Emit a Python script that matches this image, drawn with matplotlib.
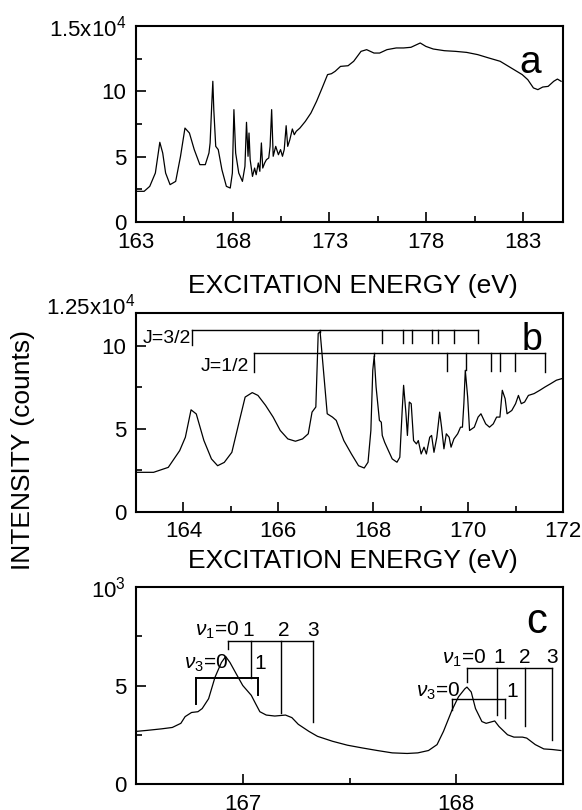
import matplotlib
matplotlib.use('Agg')
import matplotlib.pyplot as plt
from matplotlib.ticker import MultipleLocator

plt.rcParams['font.family'] = ['Liberation Sans', 'DejaVu Sans']
plt.rcParams['mathtext.fontset'] = 'custom'
plt.rcParams['mathtext.rm'] = 'Liberation Sans'
plt.rcParams['mathtext.it'] = 'Liberation Sans:italic'

# panel a: wide scan, intensity in 10^3 counts
a_energy = [163.0, 163.42, 163.71, 164.0, 164.15, 164.23, 164.38, 164.53, 164.76, 165.05,
            165.3, 165.53, 165.76, 166.01, 166.3, 166.58, 166.77, 166.83, 166.91, 166.97,
            167.02, 167.12, 167.25, 167.44, 167.67, 167.87, 167.98, 168.06, 168.15, 168.31,
            168.5, 168.63, 168.71, 168.79, 168.84, 168.9, 169.02, 169.13, 169.21, 169.32,
            169.4, 169.48, 169.55, 169.65, 169.74, 169.86, 169.93, 170.01, 170.09, 170.22,
            170.36, 170.47, 170.57, 170.66, 170.76, 170.84, 170.95, 171.08, 171.18, 171.28,
            171.47, 171.75, 172.04, 172.33, 172.62, 172.9, 173.1, 173.29, 173.57, 173.96,
            174.25, 174.63, 174.92, 175.3, 175.59, 175.97, 176.45, 176.83, 177.21, 177.5,
            177.69, 177.98, 178.36, 178.94, 179.51, 180.09, 180.66, 181.24, 181.82, 182.39,
            182.96, 183.25, 183.54, 183.77, 184.02, 184.3, 184.59, 184.78, 184.97]
a_counts = [2.35, 2.35, 2.73, 3.75, 5.28, 6.1, 5.28, 3.75, 2.86, 3.11,
            5.03, 7.19, 6.81, 5.54, 4.39, 4.39, 5.28, 6.05, 8.85, 10.77,
            8.6, 5.79, 5.54, 4.0, 2.73, 2.6, 3.75, 8.6, 5.28, 3.75,
            3.11, 4.26, 7.63, 5.03, 6.81, 4.77, 3.49, 4.13, 3.62, 4.52,
            3.88, 6.05, 4.13, 4.52, 4.77, 4.9, 5.79, 8.6, 5.03, 5.79,
            5.15, 5.54, 5.03, 5.54, 7.37, 5.79, 6.3, 7.12, 6.68, 6.94,
            7.19, 7.7, 8.34, 9.23, 10.26, 11.28, 11.35, 11.53, 11.91, 11.96,
            12.3, 13.06, 13.19, 12.93, 12.93, 13.19, 13.32, 13.32, 13.37, 13.57,
            13.7, 13.44, 13.24, 13.11, 13.06, 12.98, 12.81, 12.55, 12.3, 11.79,
            11.28, 10.89, 10.26, 10.13, 10.33, 10.38, 10.77, 10.94, 10.77]

# panel b: 163-172 eV region
b_energy = [163.0, 163.37, 163.68, 163.92, 164.04, 164.16, 164.27, 164.43, 164.59, 164.72,
            164.86, 165.02, 165.18, 165.3, 165.45, 165.57, 165.73, 165.89, 166.04, 166.2,
            166.36, 166.51, 166.63, 166.71, 166.79, 166.84, 166.88, 166.92, 167.03, 167.14,
            167.22, 167.38, 167.54, 167.69, 167.81, 167.89, 167.95, 167.99, 168.02, 168.06,
            168.13, 168.17, 168.19, 168.24, 168.32, 168.4, 168.5, 168.56, 168.61, 168.64,
            168.69, 168.72, 168.76, 168.8, 168.85, 168.91, 168.95, 169.01, 169.07, 169.12,
            169.19, 169.23, 169.28, 169.34, 169.4, 169.44, 169.49, 169.54, 169.6, 169.64,
            169.7, 169.78, 169.84, 169.88, 169.91, 169.94, 169.99, 170.03, 170.13, 170.21,
            170.27, 170.37, 170.45, 170.53, 170.6, 170.67, 170.72, 170.78, 170.82, 170.92,
            171.0, 171.06, 171.12, 171.19, 171.27, 171.39, 171.51, 171.62, 171.74, 171.86,
            171.98]
b_counts = [2.37, 2.37, 2.67, 3.68, 4.49, 6.15, 5.9, 4.3, 3.18, 2.77,
            2.97, 3.58, 5.5, 6.92, 7.19, 7.02, 6.42, 5.71, 4.9, 4.39,
            4.25, 4.39, 4.7, 6.01, 6.32, 10.77, 10.87, 9.55, 5.91, 5.71,
            5.51, 4.29, 3.48, 2.77, 2.63, 2.98, 4.9, 8.54, 9.39, 7.53,
            5.51, 5.4, 4.6, 4.19, 3.68, 3.18, 2.98, 3.28, 6.11, 7.63,
            5.91, 4.6, 6.62, 6.52, 4.29, 4.09, 4.29, 3.48, 3.89, 3.48,
            4.49, 4.6, 3.58, 4.49, 6.01, 5.1, 3.79, 4.7, 4.49, 3.89,
            4.39, 4.7, 5.1, 5.1, 6.52, 8.54, 6.92, 4.9, 5.1, 5.71,
            5.91, 5.3, 5.1, 5.3, 5.71, 5.71, 7.33, 6.82, 5.91, 6.11,
            6.52, 7.02, 6.52, 6.62, 7.02, 7.13, 7.33, 7.53, 7.73, 7.94,
            8.04]

# panel b assignments (eV)
j32_lines = [164.18, 166.88, 168.18, 168.63, 168.81, 169.23, 169.37, 169.71, 170.21]
j32_ends = [10.06, 10.87, 10.16, 10.16, 10.16, 10.16, 10.16, 10.16, 10.2]
j12_lines = [165.48, 168.02, 169.56, 169.95, 170.48, 170.68, 170.98, 171.61]
j12_ends = [8.44, 9.39, 8.5, 8.54, 8.5, 8.5, 8.5, 8.44]

# panel c: vibrational structure, intensity in 10^3 counts
c_energy = [166.5, 166.55, 166.62, 166.67, 166.71, 166.73, 166.76, 166.79, 166.81, 166.84,
            166.87, 166.9, 166.92, 166.94, 166.97, 167.0, 167.04, 167.06, 167.08, 167.11,
            167.15, 167.2, 167.23, 167.26, 167.31, 167.35, 167.42, 167.49, 167.56, 167.63,
            167.7, 167.77, 167.82, 167.87, 167.91, 167.94, 167.98, 168.01, 168.04, 168.05,
            168.07, 168.09, 168.12, 168.14, 168.18, 168.2, 168.24, 168.27, 168.31, 168.33,
            168.37, 168.41, 168.45, 168.49]
c_counts = [2.67, 2.72, 2.8, 2.87, 3.08, 3.42, 3.63, 3.67, 3.83, 4.33,
            5.42, 6.17, 6.47, 6.17, 5.58, 5.0, 4.5, 4.08, 3.67, 3.5,
            3.45, 3.5, 3.37, 3.03, 2.67, 2.42, 2.17, 1.97, 1.83, 1.7,
            1.58, 1.55, 1.58, 1.7, 2.0, 2.67, 3.75, 4.42, 4.83, 4.92,
            4.67, 3.83, 3.17, 3.08, 3.2, 2.92, 2.5, 2.38, 2.38, 2.33,
            2.0, 1.78, 1.75, 1.7]

# panel c assignments (eV)
nu1_left = [166.93, 167.04, 167.18, 167.33]
nu1_left_ends = [6.87, 5.38, 3.58, 3.13]
nu3_left = [166.78, 167.07]
nu3_left_ends = [4.08, 4.5]
nu1_right = [168.05, 168.19, 168.32, 168.45]
nu1_right_ends = [5.17, 3.5, 2.92, 2.25]
nu3_right = [167.98, 168.23]
nu3_right_ends = [3.75, 3.33]

TICK_FS = 16
LABEL_FS = 19
LW = 0.9

fig = plt.figure(figsize=(5.82, 8.10), dpi=100)
ax_a = fig.add_axes([0.2337, 0.7259, 0.7337, 0.2420])
ax_b = fig.add_axes([0.2337, 0.3685, 0.7337, 0.2450])
ax_c = fig.add_axes([0.2337, 0.0321, 0.7337, 0.2432])


def style(ax):
    for side in ['top', 'right', 'left', 'bottom']:
        ax.spines[side].set_linewidth(1.5)
    ax.tick_params(which='both', direction='in', top=False, right=False,
                   labelsize=TICK_FS, width=1.2)
    ax.tick_params(which='major', length=7)
    ax.tick_params(which='minor', length=4)
    ax.tick_params(axis='x', which='major', pad=7)
    ax.tick_params(axis='y', which='major', pad=7)


def bracket(ax, lines, ends, level, lw=1.0):
    ax.plot([lines[0], lines[-1]], [level, level], color='black', lw=lw)
    for x, y in zip(lines, ends):
        ax.plot([x, x], [level, y], color='black', lw=lw)


# panel a
ax_a.plot(a_energy, a_counts, color='black', lw=LW)
ax_a.set_xlim(163, 185.07)
ax_a.set_ylim(0, 15)
ax_a.set_xticks([163, 168, 173, 178, 183])
ax_a.set_xticks([165.5, 170.5, 175.5, 180.5], minor=True)
ax_a.set_yticks([0, 5, 10, 15])
ax_a.set_yticklabels(['0', '5', '10', '1.5x10$^4$'])
ax_a.yaxis.set_minor_locator(MultipleLocator(2.5))
style(ax_a)
ax_a.text(0.923, 0.81, 'a', transform=ax_a.transAxes, fontsize=28,
          ha='center', va='center')

# panel b
ax_b.plot(b_energy, b_counts, color='black', lw=LW)
ax_b.set_xlim(163, 172)
ax_b.set_ylim(0, 12)
ax_b.xaxis.set_major_locator(MultipleLocator(2))
ax_b.xaxis.set_minor_locator(MultipleLocator(1))
ax_b.set_yticks([0, 5, 10])
ax_b.yaxis.set_minor_locator(MultipleLocator(2.5))
style(ax_b)
ax_b.annotate('1.25x10$^4$', xy=(0, 1), xycoords='axes fraction',
              xytext=(0, 5), textcoords='offset points',
              ha='right', va='center', fontsize=TICK_FS)
bracket(ax_b, j32_lines, j32_ends, 10.97)
bracket(ax_b, j12_lines, j12_ends, 9.56)
ax_b.text(j32_lines[0] - 0.02, 10.47, 'J=3/2', fontsize=14, ha='right', va='center')
ax_b.text(j12_lines[0] - 0.1, 8.75, 'J=1/2', fontsize=14, ha='right', va='center')
ax_b.text(0.928, 0.864, 'b', transform=ax_b.transAxes, fontsize=27,
          ha='center', va='center')

# panel c
ax_c.plot(c_energy, c_counts, color='black', lw=LW)
ax_c.set_xlim(166.5, 168.5)
ax_c.set_ylim(0, 10)
ax_c.set_xticks([167, 168])
ax_c.xaxis.set_minor_locator(MultipleLocator(0.5))
ax_c.set_yticks([0, 5, 10])
ax_c.set_yticklabels(['0', '5', '10$^3$'])
ax_c.yaxis.set_minor_locator(MultipleLocator(2.5))
style(ax_c)
bracket(ax_c, nu1_left, nu1_left_ends, 7.25)
bracket(ax_c, nu3_left, nu3_left_ends, 5.38, lw=1.4)
bracket(ax_c, nu1_right, nu1_right_ends, 5.88)
bracket(ax_c, nu3_right, nu3_right_ends, 4.3)

fs_c = 15
ax_c.text(166.985, 7.8, r'$\nu_1$=0', fontsize=fs_c, ha='right', va='center')
for x, lab in zip([167.025, 167.19, 167.33], ['1', '2', '3']):
    ax_c.text(x, 7.8, lab, fontsize=fs_c, ha='center', va='center')
ax_c.text(166.93, 6.1, r'$\nu_3$=0', fontsize=fs_c, ha='right', va='center')
ax_c.text(167.08, 6.1, '1', fontsize=fs_c, ha='center', va='center')
ax_c.text(168.14, 6.4, r'$\nu_1$=0', fontsize=fs_c, ha='right', va='center')
for x, lab in zip([168.2, 168.32, 168.45], ['1', '2', '3']):
    ax_c.text(x, 6.4, lab, fontsize=fs_c, ha='center', va='center')
ax_c.text(168.02, 4.69, r'$\nu_3$=0', fontsize=fs_c, ha='right', va='center')
ax_c.text(168.26, 4.69, '1', fontsize=fs_c, ha='center', va='center')
ax_c.text(0.938, 0.824, 'c', transform=ax_c.transAxes, fontsize=30,
          ha='center', va='center')

# shared labels
fig.text(0.607, 0.647, 'EXCITATION ENERGY (eV)', fontsize=LABEL_FS, ha='center', va='center')
fig.text(0.607, 0.3074, 'EXCITATION ENERGY (eV)', fontsize=LABEL_FS, ha='center', va='center')
fig.text(0.040, 0.445, 'INTENSITY (counts)', fontsize=LABEL_FS, rotation=90,
         ha='center', va='center')

fig.savefig('out.png', dpi=100)
